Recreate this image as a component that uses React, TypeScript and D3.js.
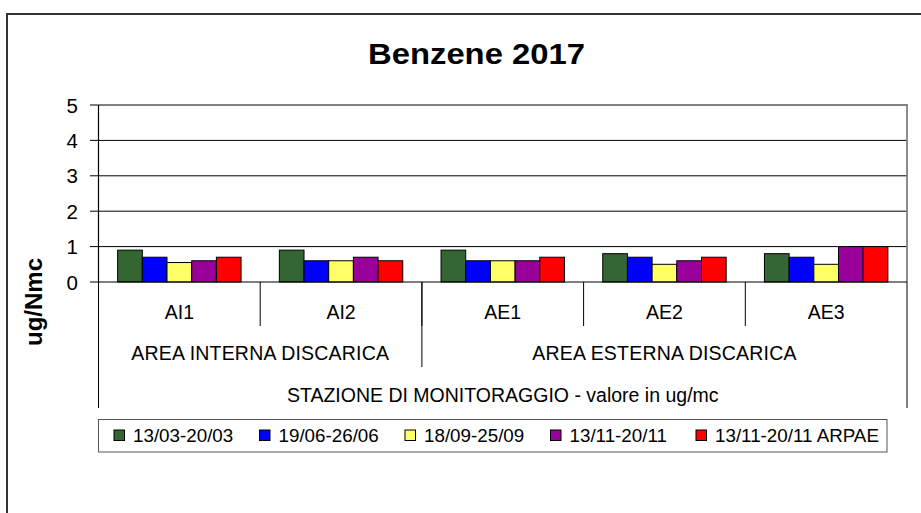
import React from "react";
import * as d3 from "d3";

// stations (level 1), areas (level 2) and the outer axis title (level 3)
const stations = ["AI1", "AI2", "AE1", "AE2", "AE3"];
const areaLabels = ["AREA INTERNA DISCARICA", "AREA ESTERNA DISCARICA"];
const areaSpans = [2, 3];
const axisGroupLabel = "STAZIONE DI MONITORAGGIO - valore in ug/mc";

const seriesNames = [
  "13/03-20/03",
  "19/06-26/06",
  "18/09-25/09",
  "13/11-20/11",
  "13/11-20/11 ARPAE",
];
const seriesColors = ["#336633", "#0000ff", "#ffff66", "#990099", "#ff0000"];

const marchValues = [0.9, 0.9, 0.9, 0.8, 0.8];
const juneValues = [0.7, 0.6, 0.6, 0.7, 0.7];
const septValues = [0.55, 0.6, 0.6, 0.5, 0.5];
const novValues = [0.6, 0.7, 0.6, 0.6, 1.0];
const novArpaeValues = [0.7, 0.6, 0.7, 0.7, 1.0];
const seriesValues = [marchValues, juneValues, septValues, novValues, novArpaeValues];

const yTicks = [0, 1, 2, 3, 4, 5];

const W = 921;
const H = 513;
const font = "'Liberation Sans', Arial, sans-serif";

export default function App() {
  const left = 98.5;
  const right = 907;
  const top = 105;
  const bottom = 282;

  const x = d3.scaleBand<string>().domain(stations).range([left, right]);
  const inner = d3
    .scaleBand<string>()
    .domain(seriesNames)
    .range([0, x.bandwidth()])
    .paddingInner(0)
    .paddingOuter(0.775);
  const y = d3.scaleLinear().domain([0, 5]).range([bottom, top]);

  // first station index of each area
  const areaBounds: number[] = [];
  let acc = 0;
  areaSpans.forEach((s) => {
    areaBounds.push(acc);
    acc += s;
  });

  const edge = (i: number) => (i < stations.length ? (x(stations[i]) as number) : right);

  const legendX = (i: number) => 114 + i * 145.5;

  return (
    <svg
      width={W}
      height={H}
      style={{ position: "absolute", left: 0, top: 0, background: "#fff" }}
      fontFamily={font}
    >
      {/* chart frame */}
      <rect x={7} y={14} width={1000} height={600} fill="#fff" stroke="#333" strokeWidth={2} />

      {/* title */}
      <text
        x={476.5}
        y={64}
        textAnchor="middle"
        fontSize={29}
        fontWeight="bold"
        textLength={217}
        lengthAdjust="spacingAndGlyphs"
      >
        Benzene 2017
      </text>

      {/* gridlines */}
      {yTicks
        .filter((t) => t > 0 && t < 5)
        .map((t) => (
          <line key={"g" + t} x1={left} x2={right} y1={y(t)} y2={y(t)} stroke="#000" strokeWidth={1} />
        ))}

      {/* plot area border (top / right) */}
      <polyline
        points={`${left},${top} ${right},${top} ${right},${bottom}`}
        fill="none"
        stroke="#808080"
        strokeWidth={1.8}
      />

      {/* bars */}
      {seriesValues.map((vals, si) =>
        vals.map((v, ci) => (
          <rect
            key={`b${si}-${ci}`}
            x={(x(stations[ci]) as number) + (inner(seriesNames[si]) as number)}
            y={y(v)}
            width={inner.bandwidth()}
            height={y(0) - y(v)}
            fill={seriesColors[si]}
            stroke="#000"
            strokeWidth={1}
          />
        ))
      )}

      {/* y axis */}
      <line x1={left} x2={left} y1={top} y2={bottom} stroke="#000" strokeWidth={1.2} />
      {yTicks.map((t) => (
        <g key={"t" + t}>
          <line x1={90} x2={left} y1={y(t)} y2={y(t)} stroke="#000" strokeWidth={1} />
          <text x={78} y={y(t) + 7.5} textAnchor="end" fontSize={20.5}>
            {t}
          </text>
        </g>
      ))}

      {/* x axis */}
      <line x1={left} x2={right} y1={bottom} y2={bottom} stroke="#000" strokeWidth={1.2} />

      {/* multi-level category separators */}
      {stations.map((s, i) =>
        i > 0 ? (
          <line key={"s" + s} x1={edge(i)} x2={edge(i)} y1={bottom} y2={326} stroke="#000" strokeWidth={1} />
        ) : null
      )}
      {areaBounds.slice(1).map((b) => (
        <line key={"a" + b} x1={edge(b)} x2={edge(b)} y1={bottom} y2={367} stroke="#000" strokeWidth={1} />
      ))}
      <line x1={left} x2={left} y1={bottom} y2={408} stroke="#000" strokeWidth={1} />
      <line x1={right} x2={right} y1={bottom} y2={408} stroke="#000" strokeWidth={1} />

      {/* category labels */}
      {stations.map((s) => (
        <text
          key={"l" + s}
          x={(x(s) as number) + x.bandwidth() / 2}
          y={319}
          textAnchor="middle"
          fontSize={19.5}
        >
          {s}
        </text>
      ))}
      {areaLabels.map((a, i) => (
        <text
          key={"al" + i}
          x={(edge(areaBounds[i]) + edge(areaBounds[i] + areaSpans[i])) / 2}
          y={359.5}
          textAnchor="middle"
          fontSize={19.5}
          letterSpacing={0.2}
        >
          {a}
        </text>
      ))}
      <text x={(left + right) / 2} y={402} textAnchor="middle" fontSize={19.5}>
        {axisGroupLabel}
      </text>

      {/* y axis title */}
      <text
        transform="translate(42,302) rotate(-90)"
        textAnchor="middle"
        fontSize={24}
        fontWeight="bold"
      >
        ug/Nmc
      </text>

      {/* legend */}
      <rect x={98.5} y={419.5} width={788.5} height={32.5} fill="#fff" stroke="#555" strokeWidth={1} />
      {seriesNames.map((n, i) => (
        <g key={"lg" + i}>
          <rect x={legendX(i)} y={430} width={10.5} height={10.5} fill={seriesColors[i]} stroke="#000" strokeWidth={1} />
          <text x={legendX(i) + 19} y={441.5} fontSize={18.8}>
            {n}
          </text>
        </g>
      ))}
    </svg>
  );
}
